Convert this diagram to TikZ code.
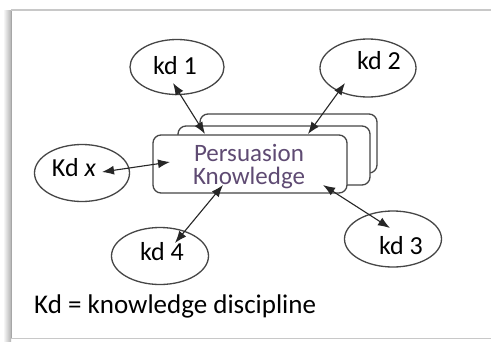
\documentclass[tikz,border=0pt]{standalone}
\usepackage{fontspec}
\setmainfont{Carlito}
\usetikzlibrary{shapes.geometric,arrows.meta}
\definecolor{edge}{RGB}{70,70,70}
\definecolor{pktext}{RGB}{95,75,115}
\definecolor{framegray}{RGB}{200,200,200}
\tikzset{
  kdell/.style={draw=edge,line width=1.3pt,ellipse,inner sep=0pt,fill=white},
  kdlab/.style={font=\fontsize{26}{28}\selectfont,inner sep=0pt,anchor=center},
  pkbox/.style={draw=edge,line width=1.3pt,rounded corners=8pt,fill=white},
  biarrow/.style={line width=1.1pt,draw=black!85,{Latex[length=12pt,width=9pt]}-{Latex[length=12pt,width=9pt]}}
}
\begin{document}
\begin{tikzpicture}[x=1pt,y=-1pt]
\useasboundingbox (0,0) rectangle (491,341);
\fill[white] (0,0) rectangle (491,341);
% frame
\fill[left color=white,right color=black!30] (3,10) rectangle (11,341);
\draw[black!35,line width=1pt] (11,10) -- (11,338);
\draw[framegray,line width=1.2pt] (11,10) -- (491,10);
\draw[framegray,line width=1.2pt] (11,338.5) -- (491,338.5);
% stacked boxes
\draw[pkbox] (200,114) rectangle (377,173);
\draw[pkbox] (178,126) rectangle (370,185);
\node[pkbox,minimum width=194pt,minimum height=58pt,inner sep=0pt] (pk) at (250,164) {};
\node[font=\fontsize{25}{23}\selectfont,text=pktext,align=center,inner sep=0pt,anchor=center] (pktxt) at (249,167) {Persuasion\\Knowledge};
% ellipses
\node[kdell,minimum width=94pt,minimum height=55pt] (kd1) at (177,67) {};
\node[kdell,minimum width=96pt,minimum height=58pt] (kd2) at (368,68) {};
\node[kdell,minimum width=95pt,minimum height=57pt] (kdx) at (82,173) {};
\node[kdell,minimum width=97pt,minimum height=57pt] (kd4) at (160,256) {};
\node[kdell,minimum width=97pt,minimum height=56pt] (kd3) at (393,239) {};
\node[kdlab] (l1) at (175,66) {kd 1};
\node[kdlab] (l2) at (379,61) {kd 2};
\node[kdlab] (lx) at (74,168) {Kd \textit{x}};
\node[kdlab] (l4) at (162,252) {kd 4};
\node[kdlab] (l3) at (401,246) {kd 3};
% arrows
\draw[biarrow] ([shift={(-4,16)}]kd1.center) -- ([shift={(-45,-30)}]pk.center);
\draw[biarrow] ([shift={(-23,15)}]kd2.center) -- ([shift={(58,-30)}]pk.center);
\draw[biarrow] ([shift={(20,-1)}]kdx.center) -- ([shift={(-80,-2)}]pk.center);
\draw[biarrow] ([shift={(15,-13)}]kd4.center) -- ([shift={(-27,21)}]pk.center);
\draw[biarrow] ([shift={(-3,-11)}]kd3.center) -- ([shift={(73,21)}]pk.center);
% legend
\node[font=\fontsize{27}{30}\selectfont,anchor=base west,inner sep=0pt] (legend) at (34,313) {Kd = knowledge discipline};
\end{tikzpicture}
\end{document}
